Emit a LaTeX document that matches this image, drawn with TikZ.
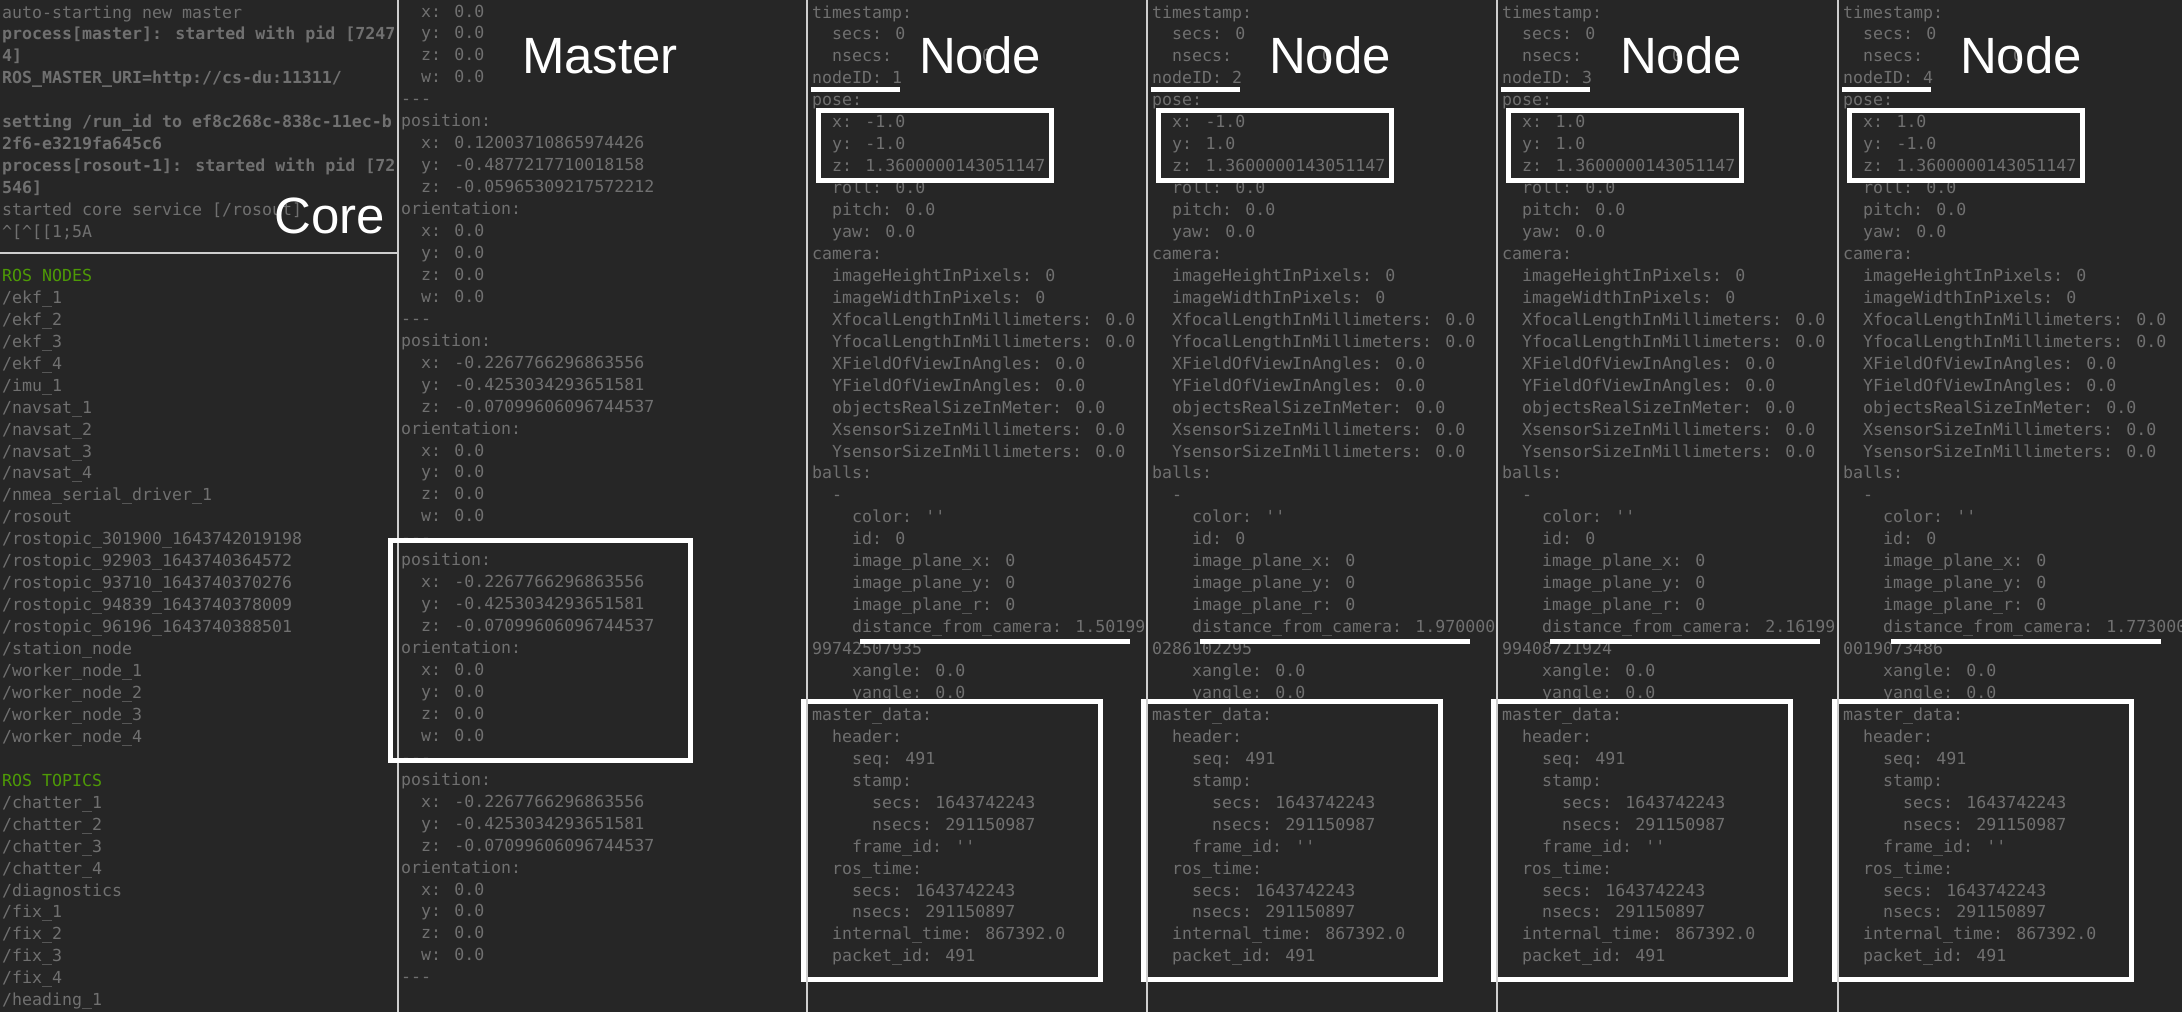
\documentclass[tikz,border=0pt]{standalone}
\usepackage{fontspec}
\usepackage{tikz}

\newfontfamily\termfont{DejaVu Sans Mono}
\newfontfamily\labelfont{Liberation Sans}

\definecolor{termbg}{RGB}{38,38,38}
\definecolor{termgray}{RGB}{112,112,112}
\definecolor{rosgreen}{RGB}{78,154,6}
\definecolor{sepgray}{RGB}{206,206,206}

\tikzset{
    term/.style={font=\termfont\fontsize{16.6}{22}\selectfont, text=termgray, anchor=base west, inner sep=0pt},
    biglabel/.style={font=\labelfont\fontsize{51}{60}\selectfont, text=white, anchor=base, inner sep=0pt},
    sep/.style={draw=sepgray, line width=2.5pt},
    hilite/.style={draw=white, line width=5pt}
}

% one echo panel of a worker node: #1 left edge, #2 name, #3 id, #4 x, #5 y,
% #6 and #7 the wrapped distance, #8 label position
\newcommand{\nodepanel}[8]{
    \foreach \t [count=\i from 0] in {timestamp:, \ \ secs: 0, \ \ nsecs:\ \ \ \ \ \ \ \ \ 0, nodeID: #3, pose:,
        \ \ x: #4, \ \ y: #5, \ \ z: 1.3600000143051147, \ \ roll: 0.0, \ \ pitch: 0.0, \ \ yaw: 0.0,
        camera:, \ \ imageHeightInPixels: 0, \ \ imageWidthInPixels: 0,
        \ \ XfocalLengthInMillimeters: 0.0, \ \ YfocalLengthInMillimeters: 0.0,
        \ \ XFieldOfViewInAngles: 0.0, \ \ YFieldOfViewInAngles: 0.0,
        \ \ objectsRealSizeInMeter: 0.0, \ \ XsensorSizeInMillimeters: 0.0, \ \ YsensorSizeInMillimeters: 0.0,
        balls:, \ \ -, \ \ \ \ color: '', \ \ \ \ id: 0,
        \ \ \ \ image\_plane\_x: 0, \ \ \ \ image\_plane\_y: 0, \ \ \ \ image\_plane\_r: 0,
        \ \ \ \ distance\_from\_camera: #6, #7, \ \ \ \ xangle: 0.0, \ \ \ \ yangle: 0.0,
        master\_data:, \ \ header:, \ \ \ \ seq: 491, \ \ \ \ stamp:,
        \ \ \ \ \ \ secs: 1643742243, \ \ \ \ \ \ nsecs: 291150987, \ \ \ \ frame\_id: '',
        \ \ ros\_time:, \ \ \ \ secs: 1643742243, \ \ \ \ nsecs: 291150897,
        \ \ internal\_time: 867392.0, \ \ packet\_id: 491}
        \node[term] (#2-\i) at (#1+5, 18+21.95*\i) {\t};
    \node[biglabel] (#2-label) at (#8, 73.3) {Node};
    \draw[hilite] (#1+4, 89.5) -- (#1+93, 89.5);
    \draw[hilite] (#1+11, 110.5) rectangle (#1+244, 180.5);
    \draw[hilite] (#1+53, 641) -- (#1+323, 641);
    \draw[hilite] (#1-4, 701) rectangle (#1+293.5, 979.5);
}

\begin{document}
\begin{tikzpicture}[x=1pt, y=-1pt]
    \useasboundingbox (0,0) rectangle (2182,1012);
    \fill[termbg] (0,0) rectangle (2182,1012);

    % core terminal
    \foreach \t [count=\i from 0] in {auto-starting new master,
        {\bfseries process[master]: started with pid [7247}, {\bfseries 4]},
        {\bfseries ROS\_MASTER\_URI=http://cs-du:11311/}, {},
        {\bfseries setting /run\_id to ef8c268c-838c-11ec-b}, {\bfseries 2f6-e3219fa645c6},
        {\bfseries process[rosout-1]: started with pid [72}, {\bfseries 546]},
        started core service [/rosout], \textasciicircum[\textasciicircum[[1;5A}
        \node[term] (core-\i) at (2, 18+21.95*\i) {\t};
    \foreach \t [count=\i from 12] in {{\color{rosgreen}ROS NODES},
        /ekf\_1, /ekf\_2, /ekf\_3, /ekf\_4, /imu\_1,
        /navsat\_1, /navsat\_2, /navsat\_3, /navsat\_4, /nmea\_serial\_driver\_1, /rosout,
        /rostopic\_301900\_1643742019198, /rostopic\_92903\_1643740364572,
        /rostopic\_93710\_1643740370276, /rostopic\_94839\_1643740378009,
        /rostopic\_96196\_1643740388501, /station\_node,
        /worker\_node\_1, /worker\_node\_2, /worker\_node\_3, /worker\_node\_4, {},
        {\color{rosgreen}ROS TOPICS}, /chatter\_1, /chatter\_2, /chatter\_3, /chatter\_4,
        /diagnostics, /fix\_1, /fix\_2, /fix\_3, /fix\_4, /heading\_1}
        \node[term] (core-\i) at (2, 18+21.95*\i) {\t};
    \node[biglabel] (core-label) at (329.7, 233.3) {Core};

    % master echo
    \foreach \t [count=\i from 0] in {\ \ x: 0.0, \ \ y: 0.0, \ \ z: 0.0, \ \ w: 0.0, ---,
        position:, \ \ x: 0.12003710865974426, \ \ y: -0.4877217710018158, \ \ z: -0.05965309217572212,
        orientation:, \ \ x: 0.0, \ \ y: 0.0, \ \ z: 0.0, \ \ w: 0.0, ---}
        \node[term] (mst-\i) at (401, 17+21.95*\i) {\t};
    \foreach \b in {15,25,35}
        \foreach \t [count=\i from \b] in {position:, \ \ x: -0.2267766296863556,
            \ \ y: -0.4253034293651581, \ \ z: -0.07099606096744537,
            orientation:, \ \ x: 0.0, \ \ y: 0.0, \ \ z: 0.0, \ \ w: 0.0, ---}
            \node[term] (mst-\i) at (401, 17+21.95*\i) {\t};
    \node[biglabel] (mst-label) at (600, 73.3) {Master};

    % node echoes
    \nodepanel{807}{n1}{1}{-1.0}{-1.0}{1.50199}{99742507935}{980}
    \nodepanel{1147}{n2}{2}{-1.0}{1.0}{1.970000}{0286102295}{1330}
    \nodepanel{1497}{n3}{3}{1.0}{1.0}{2.16199}{99408721924}{1681}
    \nodepanel{1838}{n4}{4}{1.0}{-1.0}{1.773000}{0019073486}{2021}

    % panel borders
    \draw[sep] (0,253) -- (398,253);
    \foreach \x in {398,807,1147,1497,1838}
        \draw[sep] (\x,0) -- (\x,1012);

    \draw[hilite] (390.5,540.5) rectangle (690,760);
\end{tikzpicture}
\end{document}
